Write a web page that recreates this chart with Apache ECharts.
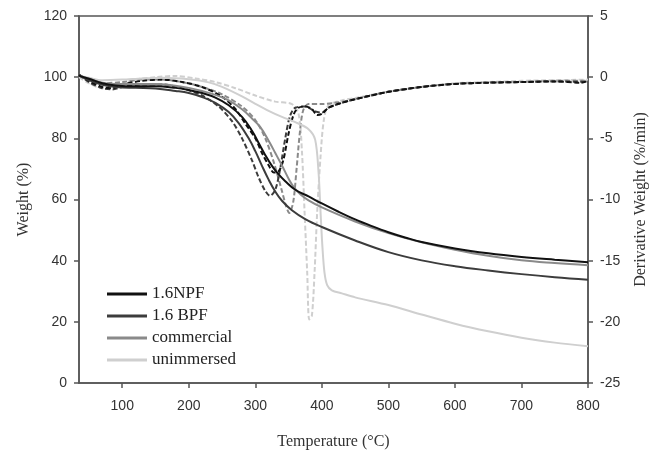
<!DOCTYPE html>
<html>
<head>
<meta charset="utf-8">
<script src="https://cdn.jsdelivr.net/npm/echarts@6/dist/echarts.min.js"></script>
<style>html,body{margin:0;padding:0;background:#fff}#c{width:653px;height:457px}</style>
</head>
<body>
<div id="c"></div>
<script>
// ---- data ----
const seriesNames = ['1.6NPF', '1.6 BPF', 'commercial', 'unimmersed'];
const xTicks = [100, 200, 300, 400, 500, 600, 700, 800];
const leftTicks = [0, 20, 40, 60, 80, 100, 120];
const rightTicks = [-25, -20, -15, -10, -5, 0, 5];

// Weight (%) curves  [temperature, weight]
const npfTGA = [[35,100.5],[50,99.5],[70,98],[90,97.3],[120,97],[150,97],[180,96.5],[200,95.8],[220,94.8],[240,93.3],[260,90.8],[280,87],[295,82.5],[305,78.5],[315,74.5],[325,71],[335,68.2],[345,66],[360,63.2],[380,61],[400,58.7],[425,56],[450,53.5],[475,51.3],[500,49.3],[525,47.6],[550,46.1],[600,44],[650,42.4],[700,41.2],[750,40.3],[800,39.5]];
const bpfTGA = [[35,100.5],[50,99],[70,97.5],[90,96.8],[120,96.5],[150,96.3],[180,95.5],[200,94.8],[220,93.5],[240,91.6],[260,88.6],[275,85],[290,80],[300,75.8],[310,71],[320,66.5],[330,62.6],[340,59.6],[355,56.5],[375,53.6],[400,51],[450,46.6],[500,42.8],[550,40.1],[600,38.2],[650,36.8],[700,35.6],[750,34.6],[800,33.8]];
const comTGA = [[35,100.5],[50,99.5],[70,98.2],[90,97.8],[120,97.8],[150,97.8],[180,97.2],[200,96.5],[220,95.5],[240,94.2],[260,92.4],[280,89.5],[295,86.5],[307,83.8],[320,79.2],[330,75.2],[341,70.7],[350,66.8],[358,64],[368,61.6],[380,59.7],[400,57.4],[450,52.8],[500,49],[550,46],[600,43.6],[650,41.6],[700,40.1],[750,39.2],[800,38.5]];
const uniTGA = [[35,100.5],[50,99.8],[70,99],[100,99.2],[130,99.6],[160,99.8],[200,99.3],[230,98.3],[250,96.8],[280,93.7],[300,91.3],[320,89],[340,87],[360,85.3],[380,83],[390,79.5],[395,69],[398,56],[401,44],[404,36],[408,32],[415,30.3],[430,29.3],[450,28],[500,25.5],[550,22.4],[600,19.4],[650,16.9],[700,14.8],[750,13.2],[800,12]];

// Derivative weight (%/min) curves  [temperature, dW/dt]
const npfDTG = [[35,0.2],[50,-0.3],[70,-0.8],[85,-0.9],[100,-0.6],[130,-0.3],[160,-0.2],[190,-0.4],[220,-0.8],[250,-1.6],[270,-2.6],[285,-3.8],[300,-5],[310,-6.2],[320,-7.2],[328,-7.8],[335,-7.7],[342,-6.8],[350,-4.6],[358,-3],[365,-2.5],[375,-2.4],[385,-2.6],[393,-3.1],[400,-3],[410,-2.5],[430,-2.1],[450,-1.8],[500,-1.2],[550,-0.8],[600,-0.55],[650,-0.45],[700,-0.4],[750,-0.35],[790,-0.45],[800,-0.3]];
const bpfDTG = [[35,0.2],[50,-0.4],[70,-0.9],[85,-1],[100,-0.8],[130,-0.6],[160,-0.6],[190,-0.9],[220,-1.5],[245,-2.4],[265,-3.6],[280,-5],[295,-6.8],[305,-8.2],[315,-9.3],[322,-9.7],[330,-9.2],[337,-7.6],[345,-5],[352,-3.2],[360,-2.5],[375,-2.4],[390,-2.8],[400,-2.9],[410,-2.5],[430,-2.1],[450,-1.8],[500,-1.2],[550,-0.8],[600,-0.55],[650,-0.45],[700,-0.4],[750,-0.35],[800,-0.4]];
const comDTG = [[35,0.2],[50,-0.2],[70,-0.5],[100,-0.4],[130,-0.2],[160,-0.2],[190,-0.4],[220,-0.8],[250,-1.4],[280,-2.4],[300,-3.5],[315,-5],[328,-7],[340,-9.3],[346,-10.5],[351,-11.1],[357,-10.2],[362,-7.5],[367,-4.5],[372,-2.7],[380,-2.2],[400,-2.2],[420,-2.1],[450,-1.8],[500,-1.2],[550,-0.8],[600,-0.55],[650,-0.45],[700,-0.4],[750,-0.3],[800,-0.3]];
const uniDTG = [[35,0],[50,-0.5],[70,-0.9],[90,-0.7],[120,-0.2],[150,0],[180,0.1],[210,-0.1],[240,-0.4],[270,-0.9],[300,-1.5],[330,-2],[355,-2.2],[365,-3],[370,-6],[374,-11],[378,-16],[381,-19.8],[385,-19.5],[389,-16],[393,-11],[398,-6.5],[403,-3.5],[410,-2.3],[430,-1.9],[450,-1.7],[500,-1.2],[550,-0.8],[600,-0.5],[650,-0.4],[700,-0.3],[750,-0.25],[800,-0.2]];

const colors = ['#111111', '#3c3c3c', '#8a8a8a', '#cfcfcf'];
const tgaSets = [npfTGA, bpfTGA, comTGA, uniTGA];
const dtgSets = [npfDTG, bpfDTG, comDTG, uniDTG];

// ---- chart ----
const chart = echarts.init(document.getElementById('c'), null, {renderer: 'canvas'});
const axisCol = '#555';
const serif = '"Liberation Serif", "DejaVu Serif", serif';
const sans = '"Liberation Sans", Arial, sans-serif';

const series = [];
for (let i = 3; i >= 0; i--) {
  series.push({
    name: seriesNames[i] + ' DTG', type: 'line', yAxisIndex: 1, data: dtgSets[i],
    showSymbol: false, smooth: 0.3, z: 2 + (3 - i),
    lineStyle: {color: colors[i], width: 2, type: [5, 2.5]}, itemStyle: {color: colors[i]}
  });
}
for (let i = 3; i >= 0; i--) {
  series.push({
    name: seriesNames[i], type: 'line', yAxisIndex: 0, data: tgaSets[i],
    showSymbol: false, smooth: i === 3 ? 0.3 : 0.4, z: 10 + (3 - i),
    lineStyle: {color: colors[i], width: 2}, itemStyle: {color: colors[i]}
  });
}

chart.setOption({
  animation: false,
  backgroundColor: '#fff',
  grid: {left: 79, right: 65, top: 16, bottom: 74, show: true, borderColor: axisCol, borderWidth: 1.5, containLabel: false, outerBoundsMode: 'none'},
  legend: {
    data: seriesNames, orient: 'vertical', left: 107, top: 285, padding: 0,
    itemWidth: 40, itemHeight: 3, itemGap: 4, icon: 'rect',
    textStyle: {fontFamily: serif, fontSize: 17, color: '#222', lineHeight: 18}
  },
  xAxis: {
    type: 'value', min: 35, max: 800,
    name: 'Temperature (°C)', nameLocation: 'middle', nameGap: 51,
    nameTextStyle: {fontFamily: serif, fontSize: 16, color: '#333'},
    axisLine: {show: true, lineStyle: {color: axisCol, width: 1.5}},
    axisTick: {show: true, inside: false, length: 5, customValues: xTicks, lineStyle: {color: axisCol, width: 1.5}},
    axisLabel: {customValues: xTicks, margin: 16, fontFamily: sans, fontSize: 14, color: '#333'},
    splitLine: {show: false}
  },
  yAxis: [{
    type: 'value', min: 0, max: 120, interval: 20, position: 'left',
    name: 'Weight (%)', nameLocation: 'middle', nameGap: 47, nameRotate: 90,
    nameTextStyle: {fontFamily: serif, fontSize: 16, color: '#333'},
    axisLine: {show: true, lineStyle: {color: axisCol, width: 1.5}},
    axisTick: {show: true, length: 5, lineStyle: {color: axisCol, width: 1.5}},
    axisLabel: {margin: 12, fontFamily: sans, fontSize: 14, color: '#333'},
    splitLine: {show: false}
  }, {
    type: 'value', min: -25, max: 5, interval: 5, position: 'right',
    name: 'Derivative Weight (%/min)', nameLocation: 'middle', nameGap: 45, nameRotate: 90,
    nameTextStyle: {fontFamily: serif, fontSize: 16, color: '#333'},
    axisLine: {show: true, lineStyle: {color: axisCol, width: 1.5}},
    axisTick: {show: true, length: 5, lineStyle: {color: axisCol, width: 1.5}},
    axisLabel: {margin: 12, fontFamily: sans, fontSize: 14, color: '#333'},
    splitLine: {show: false}
  }],
  series: series
});
</script>
</body>
</html>
